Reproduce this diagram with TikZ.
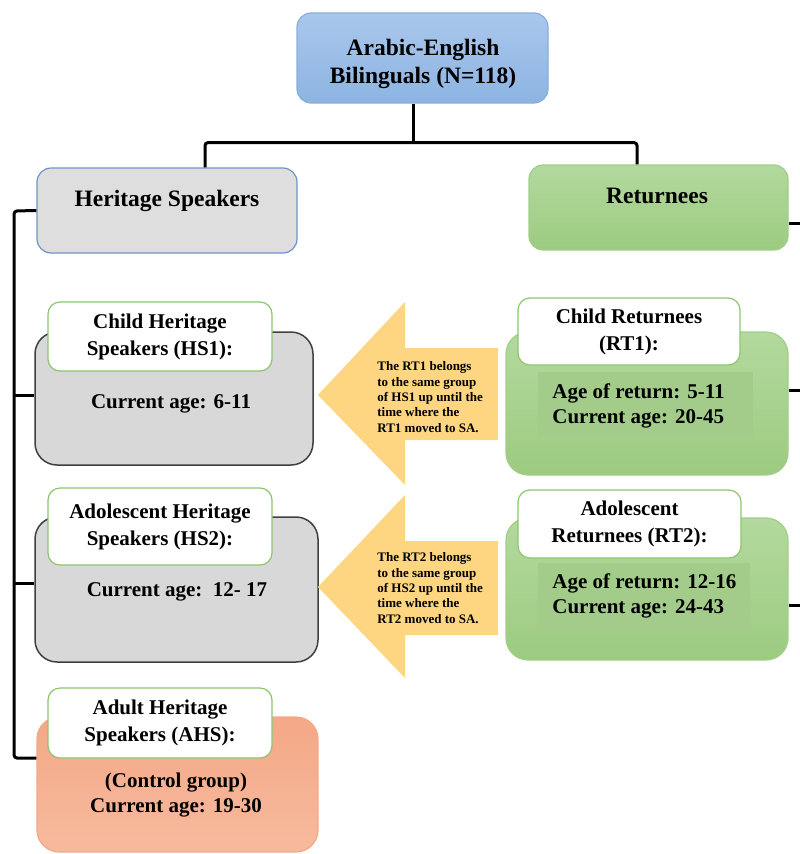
\documentclass[tikz,border=0pt]{standalone}
\usepackage{fontspec}
\setmainfont{Liberation Serif}
\usetikzlibrary{positioning}

\definecolor{bilTop}{HTML}{A9C7EC}
\definecolor{bilBot}{HTML}{8DB4E2}
\definecolor{bilLine}{HTML}{8AAEDD}
\definecolor{hsFill}{HTML}{DEDEDE}
\definecolor{hsLine}{HTML}{7193C9}
\definecolor{rtTop}{HTML}{B3D99E}
\definecolor{rtBot}{HTML}{9DCB81}
\definecolor{rtLine}{HTML}{A2CE88}
\definecolor{grayFill}{HTML}{D8D8D8}
\definecolor{grayLine}{HTML}{404040}
\definecolor{innerGreen}{HTML}{A3CC8A}
\definecolor{titleLine}{HTML}{8CC56E}
\definecolor{ahsTop}{HTML}{F4A886}
\definecolor{ahsBot}{HTML}{F7BA9E}
\definecolor{noteFill}{HTML}{FED580}

\tikzset{every picture/.style={line width=0.75pt},
  box/.style={rounded corners=14, inner sep=0pt, line width=1.2pt},
  bilbox/.style={box, draw=bilLine, top color=bilTop, bottom color=bilBot},
  hsbox/.style={box, draw=hsLine, fill=hsFill},
  rtbox/.style={box, draw=rtLine, top color=rtTop, bottom color=rtBot},
  graybox/.style={box, rounded corners=22, draw=grayLine, line width=1.5pt, fill=grayFill},
  greenbox/.style={box, rounded corners=22, draw=rtLine, top color=rtTop, bottom color=rtBot},
  ahsbox/.style={box, rounded corners=22, draw=ahsTop, top color=ahsTop, bottom color=ahsBot},
  titlebox/.style={box, rounded corners=12, draw=titleLine, fill=white, align=center,
    font=\fontsize{21}{27}\selectfont\bfseries, minimum width=224, minimum height=68},
  bigtxt/.style={font=\fontsize{23.5}{28}\selectfont\bfseries, align=center},
  agetxt/.style={font=\fontsize{21}{25.5}\selectfont\bfseries, align=left},
  notetxt/.style={font=\fontsize{13}{15.3}\selectfont\bfseries, align=left, inner sep=0pt},
  conn/.style={line width=3pt, rounded corners=3}}

\begin{document}
\begin{tikzpicture}[x=1pt,y=1pt,yscale=-1]
\useasboundingbox (0,0) rectangle (800,854);

% top level
\node[bilbox, minimum width=251, minimum height=90] (bil) at (422.5,58) {};
\node[bigtxt] (biltxt) at (423,64) {Arabic-English\\Bilinguals (N=118)};

\node[hsbox, minimum width=260, minimum height=85] (hs) at (167,210.5) {};
\node[bigtxt] (hstxt) at (167,201) {Heritage Speakers};

\node[rtbox, minimum width=259, minimum height=85] (rt) at (658.5,207.5) {};
\node[bigtxt] (rttxt) at (657,196) {Returnees};

% heritage speaker groups
\node[graybox, minimum width=278, minimum height=133] (hs1) at (174,398.5) {};
\node[titlebox, minimum height=69] (hs1t) at (160,336.5) {Child Heritage\\Speakers (HS1):};
\node[agetxt] (hs1age) at (171,404) {Current age: 6-11};

\node[graybox, minimum width=283, minimum height=145] (hs2) at (176.5,589.5) {};
\node[titlebox, minimum height=77] (hs2t) at (160,526.5) {Adolescent Heritage\\Speakers (HS2):};
\node[agetxt] (hs2age) at (177,592) {Current age:\ \ 12- 17};

\node[ahsbox, minimum width=281, minimum height=135] (ahs) at (177.5,784.5) {};
\node[titlebox, minimum height=70] (ahst) at (160,723) {Adult Heritage\\Speakers (AHS):};
\node[agetxt, align=center] (ahsage) at (176,795) {(Control group)\\Current age: 19-30};

% returnee groups
\node[greenbox, minimum width=282, minimum height=143] (rt1) at (647,403.5) {};
\node[titlebox, minimum width=222, minimum height=67] (rt1t) at (629,331.5) {Child Returnees\\(RT1):};
\node[fill=innerGreen, minimum width=215, minimum height=65, inner sep=0pt] (rt1in) at (645.5,404.5) {};
\node[agetxt, anchor=west, inner sep=0pt] (rt1age) at (552,406) {Age of return: 5-11\\Current age: 20-45};

\node[greenbox, minimum width=282, minimum height=142] (rt2) at (647,589) {};
\node[titlebox, minimum width=223, minimum height=68] (rt2t) at (629.5,524) {Adolescent\\Returnees (RT2):};
\node[fill=innerGreen, minimum width=212, minimum height=69, inner sep=0pt] (rt2in) at (644,597.5) {};
\node[agetxt, anchor=west, inner sep=0pt] (rt2age) at (552,596) {Age of return: 12-16\\Current age: 24-43};

% block arrows
\fill[noteFill] (318,395) -- (405,302) -- (405,348) -- (498,348) -- (498,440) -- (405,440) -- (405,485) -- cycle;
\node[notetxt, anchor=west] (note1) at (377,397) {The RT1 belongs\\to the same group\\of HS1 up until the\\time where the\\RT1 moved to SA.};
\fill[noteFill] (318,587) -- (405,495) -- (405,541) -- (498,541) -- (498,635) -- (405,635) -- (405,678) -- cycle;
\node[notetxt, anchor=west] (note2) at (377,588) {The RT2 belongs\\to the same group\\of HS2 up until the\\time where the\\RT2 moved to SA.};

% connectors
\draw[conn] ([xshift=-9.5]bil.south) -- ++(0,39) coordinate (fork);
\draw[conn] ([xshift=38]hs.north) |- (fork) -| ([xshift=-21.5]rt.north);

\coordinate (lspine) at (14,211);
\coordinate (hs1in) at ([yshift=-3.5]hs1.west);
\coordinate (hs2in) at ([yshift=-6.5]hs2.west);
\coordinate (ahsin) at ([yshift=-26.5]ahs.west);
\draw[conn] (hs.west) -- (lspine) |- (ahsin);
\draw[conn] (hs1in -| lspine) -- (hs1in);
\draw[conn] (hs2in -| lspine) -- (hs2in);

\coordinate (rspine) at (800,223);
\coordinate (rtout) at ([yshift=15.5]rt.east);
\coordinate (rt1out) at ([yshift=-13.5]rt1.east);
\coordinate (rt2out) at ([yshift=16]rt2.east);
\draw[conn] (rtout) -- (rspine);
\draw[conn] (rt1out) -- (rt1out -| rspine);
\draw[conn] (rt2out) -- (rt2out -| rspine);
\end{tikzpicture}
\end{document}
